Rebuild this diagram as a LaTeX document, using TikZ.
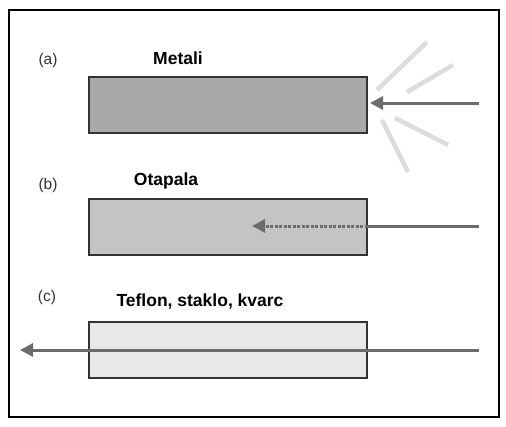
\documentclass[tikz,border=0pt]{standalone}
\usepackage{fontspec}
\setmainfont{Liberation Sans}
\usetikzlibrary{arrows.meta}
\definecolor{arrowgray}{HTML}{6C6C6C}
\definecolor{raygray}{HTML}{DCDCDC}
\definecolor{fillA}{HTML}{A9A9A9}
\definecolor{fillB}{HTML}{C4C4C4}
\definecolor{fillC}{HTML}{E8E8E8}
\tikzset{
  slab/.style={draw=black!80, line width=1.6pt, minimum width=278pt, minimum height=56pt, inner sep=0pt, anchor=north west},
  beam/.style={draw=arrowgray, line width=3pt, -{Triangle[length=13pt,width=13pt]}},
  ray/.style={draw=raygray, line width=4.5pt},
  tag/.style={font=\fontsize{15.5}{17}\selectfont, text=black!80, anchor=center},
  mat/.style={font=\bfseries\fontsize{17.5}{20}\selectfont, anchor=center}
}
\begin{document}
\begin{tikzpicture}[x=1pt,y=-1pt]
\useasboundingbox (0,0) rectangle (506,426);
\fill[white] (0,0) rectangle (506,426);
\draw[line width=2pt] (9,10) rectangle (499,417);
% (a)
\node[tag] (la) at (48,60) {(a)};
\node[mat] (ta) at (178,58) {Metali};
\node[slab, fill=fillA] (sa) at (88,76) {};
\draw[ray] (377,90) -- (427,42);
\draw[ray] (407,92) -- (453,65);
\draw[ray] (395,118) -- (448,145);
\draw[ray] (382,120) -- (408,172);
\coordinate (sa0) at (479,103);
\coordinate (sa1) at (370,103);
\draw[beam] (sa0) -- (sa1);
% (b)
\node[tag] (lb) at (48,185) {(b)};
\node[mat] (tb) at (166,181) {Otapala};
\node[slab, fill=fillB] (sb) at (88,198) {};
\coordinate (sb0) at (479,226);
\coordinate (sb1) at (sb.east |- sb0);
\coordinate (sb2) at (252,226);
\draw[arrowgray, line width=3pt] (sb0) -- (sb1);
\draw[beam, dash pattern=on 3pt off 1.5pt] (sb1) -- (sb2);
% (c)
\node[tag] (lc) at (47,297) {(c)};
\node[mat] (tc) at (200,302) {Teflon, staklo, kvarc};
\node[slab, fill=fillC] (sc) at (88,321) {};
\coordinate (sc0) at (479,350);
\coordinate (sc1) at (20,350);
\draw[beam] (sc0) -- (sc1);
\end{tikzpicture}
\end{document}
